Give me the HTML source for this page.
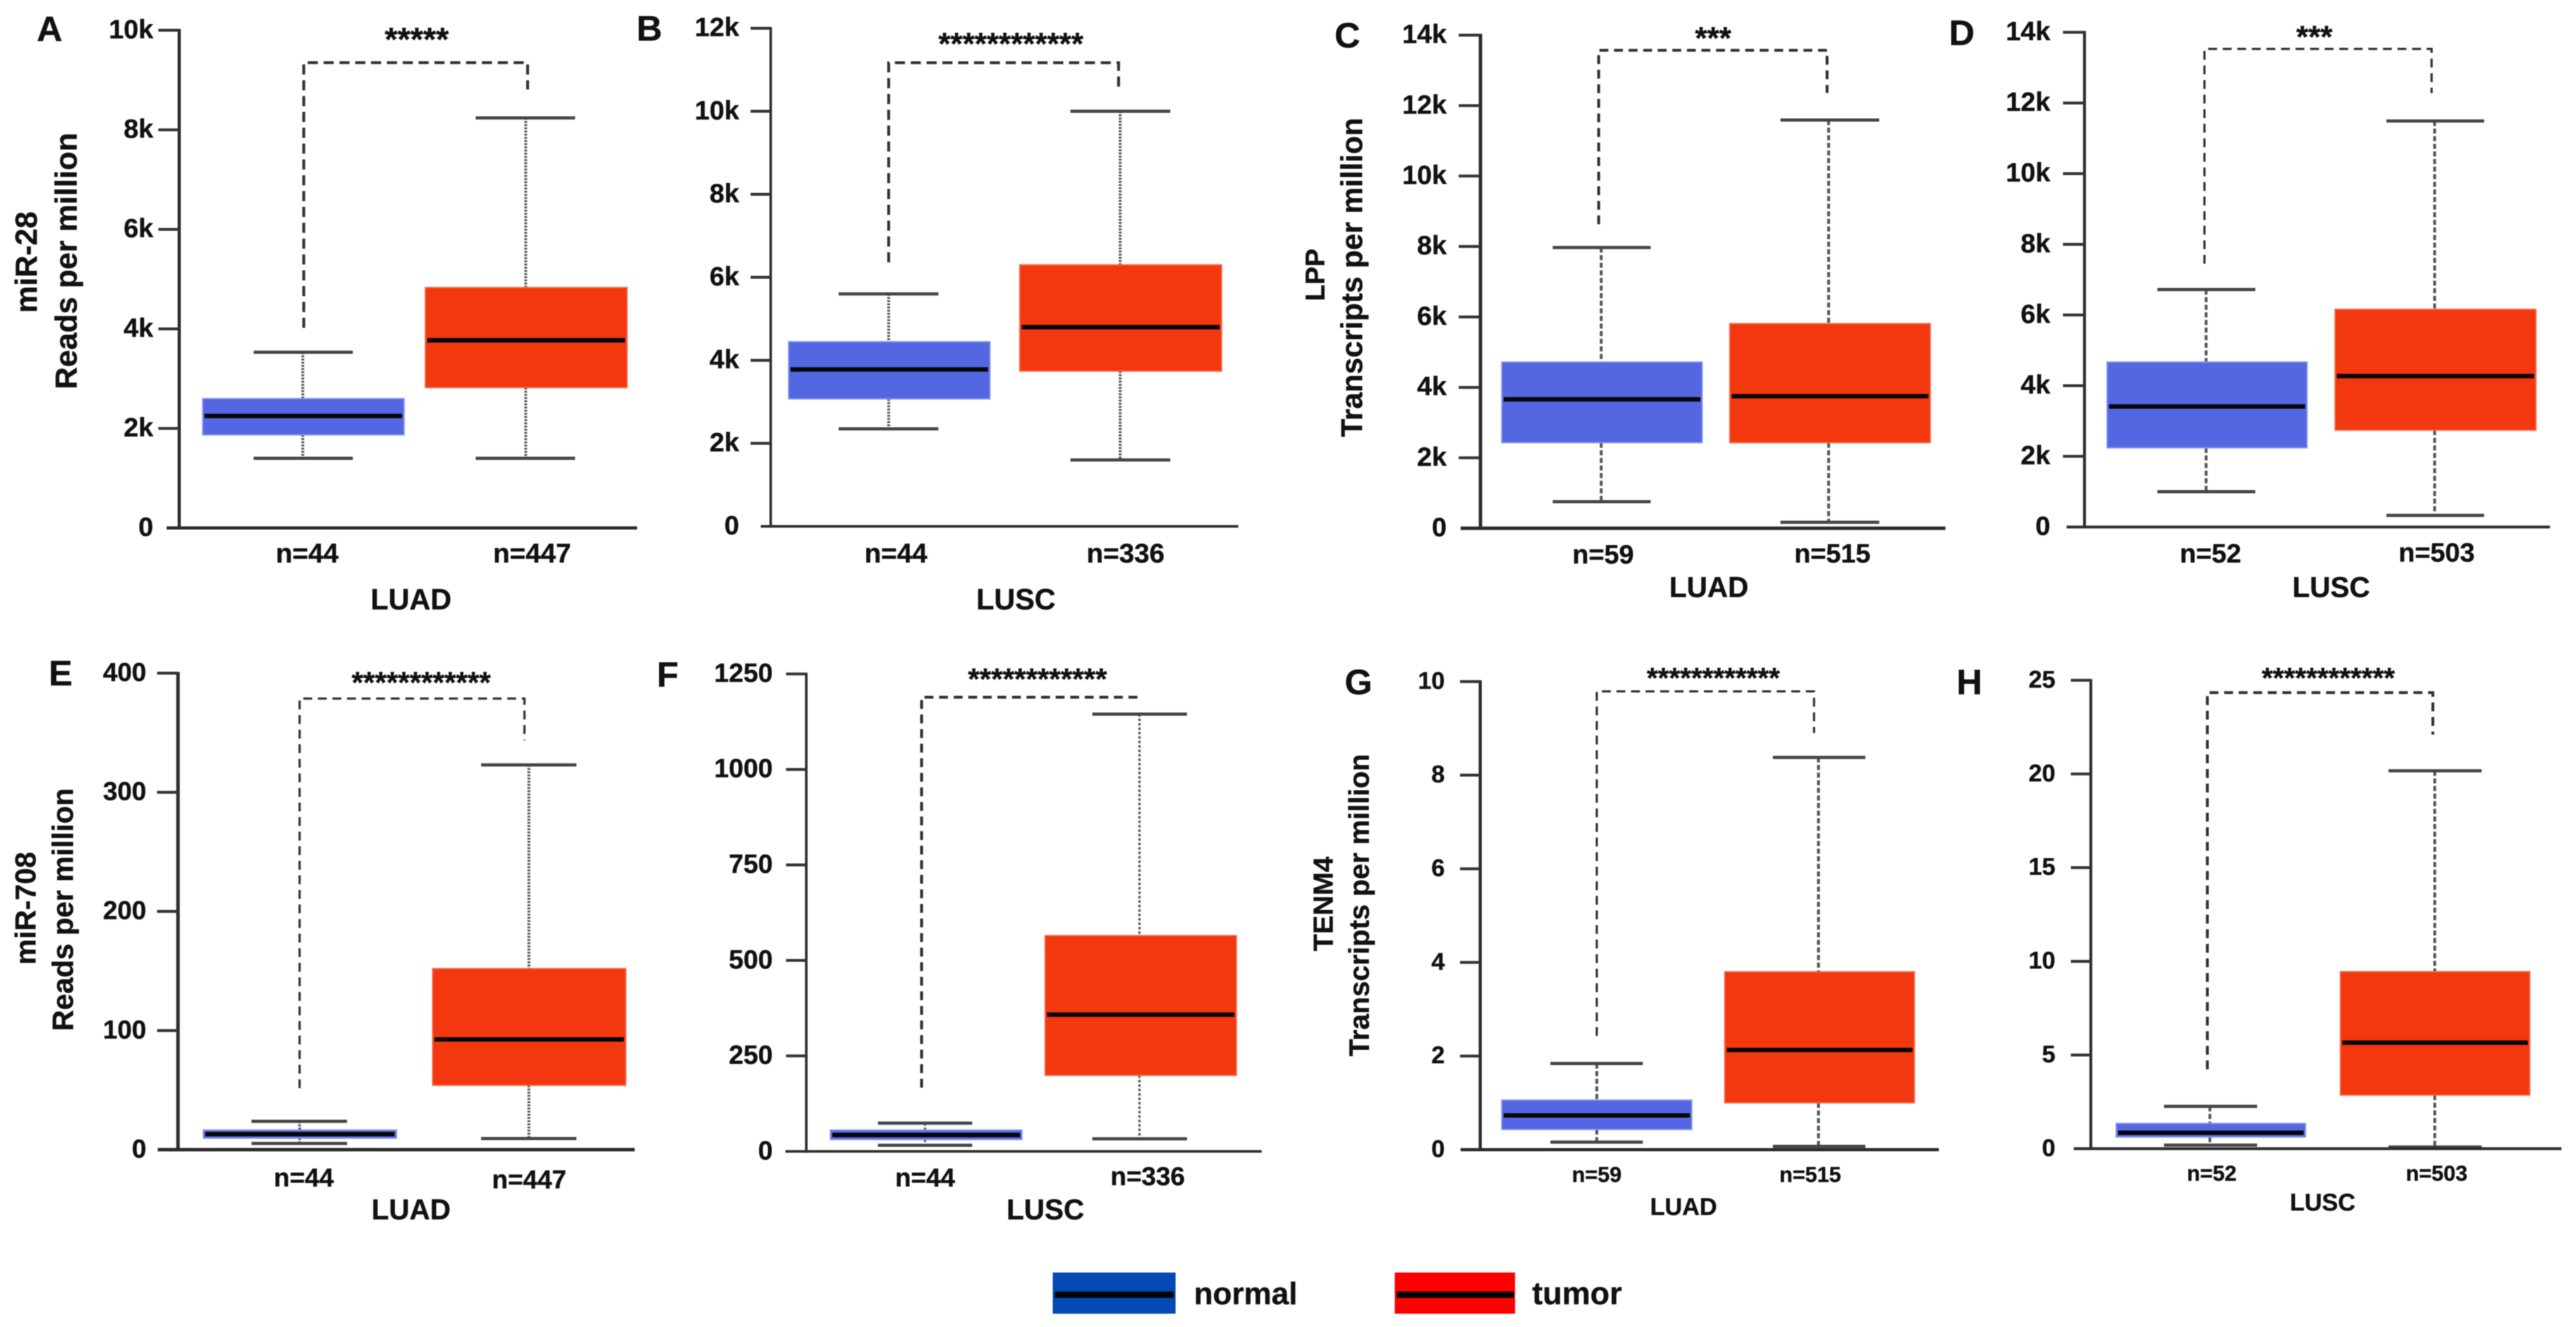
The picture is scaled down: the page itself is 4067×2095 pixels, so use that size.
<!DOCTYPE html>
<html lang="en">
<head>
<meta charset="utf-8">
<title>Boxplots of miR-28, miR-708, LPP and TENM4 in LUAD and LUSC</title>
<style>
  html, body { margin: 0; padding: 0; background: #fff; width: 4067px; height: 2095px; overflow: hidden; }
  svg { display: block; filter: blur(0.9px); }
  text { font-family: "Liberation Sans", sans-serif; font-weight: bold; fill: #111; stroke: #111; stroke-width: 0.5px; }
</style>
</head>
<body>
<svg id="figure" xmlns="http://www.w3.org/2000/svg" width="4067" height="2095" viewBox="0 0 4067 2095">
  <rect x="0" y="0" width="4067" height="2095" fill="#ffffff"></rect>
  <g>
    <g>
      <rect x="1662" y="2009" width="194" height="65" fill="#034ab5"></rect>
      <line x1="1665" x2="1853" y1="2044" y2="2044" stroke="#050505" stroke-width="10"></line>
      <text x="1885" y="2059" font-size="49">normal</text>
    </g>
    <g>
      <rect x="2202" y="2009" width="190" height="65" fill="#fe0000"></rect>
      <line x1="2205" x2="2390" y1="2044" y2="2044" stroke="#050505" stroke-width="10"></line>
      <text x="2419" y="2059" font-size="50">tumor</text>
    </g>
  </g>
</svg>
<script>
// ---- Chart data, one slot per panel A..H ----
const panelLetters = ['A', 'B', 'C', 'D', 'E', 'F', 'G', 'H'];
const cancerTypes = ['LUAD', 'LUSC', 'LUAD', 'LUSC', 'LUAD', 'LUSC', 'LUAD', 'LUSC'];
const geneNames = ['miR-28', '', 'LPP', '', 'miR-708', '', 'TENM4', ''];
const unitNames = ['Reads per million', '', 'Transcripts per million', '', 'Reads per million', '', 'Transcripts per million', ''];
const normalCounts = [44, 44, 59, 52, 44, 44, 59, 52];
const tumorCounts = [447, 336, 515, 503, 447, 336, 515, 503];
const starCounts = [5, 12, 3, 3, 12, 12, 12, 12];

const ticksA = [0, 2000, 4000, 6000, 8000, 10000];
const ticksB = [0, 2000, 4000, 6000, 8000, 10000, 12000];
const ticksC = [0, 2000, 4000, 6000, 8000, 10000, 12000, 14000];
const ticksD = [0, 2000, 4000, 6000, 8000, 10000, 12000, 14000];
const ticksE = [0, 100, 200, 300, 400];
const ticksF = [0, 250, 500, 750, 1000, 1250];
const ticksG = [0, 2, 4, 6, 8, 10];
const ticksH = [0, 5, 10, 15, 20, 25];
const tickLabelsA = ['0', '2k', '4k', '6k', '8k', '10k'];
const tickLabelsB = ['0', '2k', '4k', '6k', '8k', '10k', '12k'];
const tickLabelsC = ['0', '2k', '4k', '6k', '8k', '10k', '12k', '14k'];
const tickLabelsD = ['0', '2k', '4k', '6k', '8k', '10k', '12k', '14k'];
const tickLabelsE = ['0', '100', '200', '300', '400'];
const tickLabelsF = ['0', '250', '500', '750', '1000', '1250'];
const tickLabelsG = ['0', '2', '4', '6', '8', '10'];
const tickLabelsH = ['0', '5', '10', '15', '20', '25'];
const allTicks = [ticksA, ticksB, ticksC, ticksD, ticksE, ticksF, ticksG, ticksH];
const allTickLabels = [tickLabelsA, tickLabelsB, tickLabelsC, tickLabelsD, tickLabelsE, tickLabelsF, tickLabelsG, tickLabelsH];

const normalLow = [1400, 2350, 755, 1000, 5.2, 16, 0.16, 0.19];
const normalQ1 = [1870, 3070, 2430, 2240, 9.6, 31, 0.43, 0.62];
const normalMedian = [2250, 3780, 3660, 3410, 13, 43, 0.73, 0.85];
const normalQ3 = [2600, 4450, 4720, 4670, 16.5, 56, 1.06, 1.35];
const normalHigh = [3530, 5600, 7970, 6720, 23.8, 74, 1.84, 2.26];

const tumorLow = [1400, 1600, 170, 330, 9.3, 33, 0.07, 0.09];
const tumorQ1 = [2820, 3740, 2430, 2740, 54, 199, 1.0, 2.86];
const tumorMedian = [3770, 4800, 3750, 4270, 92.5, 358, 2.13, 5.66];
const tumorQ3 = [4830, 6300, 5810, 6160, 152, 565, 3.8, 9.45];
const tumorHigh = [8240, 10000, 11590, 11490, 323, 1145, 8.38, 20.17];

const bracketTop = [9350, 11170, 13570, 13530, 378.7, 1189, 9.79, 24.34];
const bracketLeftEnd = [4020, 6360, 8630, 7450, 51.6, 167, 2.43, 4.24];
const bracketRightEnd = [8810, 10520, 12360, 12280, 343.6, 1189, 8.9, 22.1];

// ---- Pixel layout of each panel (not data) ----
const layouts = [
  { axisX:283, yTop:47.8, y0:833.5, hL:263, hR:1006, tickL:250, labelR:242, tickFont:42, nBox:[320,638], tBox:[671.5,990], nCap:[400.5,557], tCap:[751,908], nX:478, tX:830, brL:479.6, brR:833, starX:658, starY:51, starFont:52, nLX:485, tLX:840, nLY:888, tLY:888, nFont:43, catX:649, catY:962, catFont:46, letterX:58, letterY:65, dash:'3 2', whW:4.5, brW:4.5, brDash:'16 9', axW:5, geneX:58, geneY:414, geneFont:48, unitX:121, unitY:412, unitFont:48.6 },
  { axisX:1216.8, yTop:44.6, y0:831, hL:1201, hR:1955, tickL:1185, labelR:1167, tickFont:42, nBox:[1245,1563], tBox:[1610,1928.6], nCap:[1324,1481.5], tCap:[1690,1847.6], nX:1403, tX:1768.5, brL:1403, brR:1766, starX:1596, starY:58.7, starFont:49, nLX:1414.5, tLX:1777, nLY:888, tLY:888, nFont:43, catX:1604, catY:962, catFont:46, letterX:1005, letterY:64, dash:'3 2', whW:4.5, brW:4.5, brDash:'16 9', axW:4 },
  { axisX:2337.4, yTop:55.5, y0:834, hL:2306, hR:3071.5, tickL:2303, labelR:2284, tickFont:42, nBox:[2371,2687.5], tBox:[2731,3047.6], nCap:[2451.5,2606], tCap:[2811,2967], nX:2528, tX:2887, brL:2524, brR:2884.6, starX:2704.7, starY:49.7, starFont:49, nLX:2531, tLX:2893, nLY:889.7, tLY:888, nFont:42, catX:2698, catY:942.6, catFont:45, letterX:2107, letterY:75, dash:'8 4', whW:4.5, brW:4.5, brDash:'14 9', axW:5.5, geneX:2091, geneY:434, geneFont:42.6, unitX:2150.5, unitY:438, unitFont:47 },
  { axisX:3291, yTop:51, y0:832, hL:3262.7, hR:4026, tickL:3257, labelR:3237, tickFont:42, nBox:[3326.6,3642.4], tBox:[3686.6,4003.7], nCap:[3406,3560.7], tCap:[3767.6,3922], nX:3483, tX:3843.8, brL:3480.4, brR:3839, starX:3654, starY:47.8, starFont:49, nLX:3490, tLX:3847, nLY:888, tLY:886.5, nFont:42, catX:3680.5, catY:942.6, catFont:45, letterX:3077, letterY:71, dash:'8 4', whW:4.5, brW:3.5, brDash:'14 9', axW:4.5 },
  { axisX:281, yTop:1062.8, y0:1815, hL:249, hR:1002, tickL:248, labelR:231, tickFont:41, nBox:[321,626], tBox:[683,988], nCap:[397,548], tCap:[759.6,910], nX:473, tX:835, brL:473, brR:828, starX:665, starY:1067, starFont:47, nLX:479.6, tLX:835.5, nLY:1873, tLY:1876, nFont:41, catX:649, catY:1925, catFont:45, letterX:77, letterY:1082, dash:'3 2', whW:4.5, brW:3.5, brDash:'14 9', axW:5.5, geneX:56, geneY:1434, geneFont:45.8, unitX:115, unitY:1436, unitFont:46 },
  { axisX:1273, yTop:1064, y0:1817.8, hL:1240, hR:1992, tickL:1241, labelR:1220, tickFont:41.6, nBox:[1311,1613.5], tBox:[1650,1952], nCap:[1386,1535], tCap:[1724.5,1874], nX:1460.5, tX:1799, brL:1455, brR:1797, starX:1638, starY:1061.5, starFont:47, nLX:1460.5, tLX:1812, nLY:1873, tLY:1871, nFont:41, catX:1650.5, catY:1925, catFont:45, letterX:1037, letterY:1084, dash:'4 3', whW:3.5, brW:4.5, brDash:'14 9', axW:4 },
  { axisX:2337, yTop:1076, y0:1815, hL:2306, hR:3061, tickL:2305, labelR:2281, tickFont:38, nBox:[2371,2671], tBox:[2723,3022.5], nCap:[2447.7,2593.7], tCap:[2799,2945], nX:2521, tX:2871, brL:2521, brR:2864, starX:2705, starY:1061, starFont:45, nLX:2521, tLX:2858, nLY:1866, tLY:1866, nFont:34, catX:2658, catY:1918, catFont:38, letterX:2123, letterY:1096, dash:'8 4', whW:4.5, brW:3.5, brDash:'14 9', axW:5 },
  { axisX:3301, yTop:1074, y0:1813.5, hL:3274, hR:4044, tickL:3269.5, labelR:3245, tickFont:38, nBox:[3341,3640], tBox:[3695,3994], nCap:[3416.5,3563.5], tCap:[3771,3918], nX:3489, tX:3844, brL:3485, brR:3841, starX:3676, starY:1060.8, starFont:45, nLX:3492, tLX:3847, nLY:1864, tLY:1864, nFont:34, catX:3667, catY:1911, catFont:38, letterX:3089, letterY:1096, dash:'8 4', whW:4.5, brW:4.5, brDash:'14 9', axW:4.5 }
];
layouts[6].geneX = 2104;
layouts[6].geneY = 1427;
layouts[6].geneFont = 44;
layouts[6].unitX = 2161;
layouts[6].unitY = 1429;
layouts[6].unitFont = 44.5;

const SVG_NS = 'http://www.w3.org/2000/svg';
const figure = document.getElementById('figure');

function make(parent, tag, attrs, content) {
  const el = document.createElementNS(SVG_NS, tag);
  Object.keys(attrs).forEach(function (k) { el.setAttribute(k, attrs[k]); });
  if (content !== undefined) el.textContent = content;
  parent.appendChild(el);
  return el;
}

// Axis function: maps a data value to a y pixel, using the panel's top tick as the domain end.
function yAxis(panelIndex, value) {
  const lay = layouts[panelIndex];
  const ticks = allTicks[panelIndex];
  const domainMax = ticks[ticks.length - 1];
  return lay.y0 - (value / domainMax) * (lay.y0 - lay.yTop);
}

function drawBox(g, i, group, lay, box, cap, cx, stats, fill, edge) {
  const y = function (v) { return yAxis(i, v); };
  const prefix = group + '-' + panelLetters[i].toLowerCase();

  const upper = make(g, 'line', { x1: cx, x2: cx, y1: y(stats.high), y2: y(stats.q3), stroke: '#555555', 'stroke-width': lay.whW, 'stroke-dasharray': lay.dash });
  
  

  const lower = make(g, 'line', { x1: cx, x2: cx, y1: y(stats.q1), y2: y(stats.low), stroke: '#555555', 'stroke-width': lay.whW, 'stroke-dasharray': lay.dash });
  
  

  const capHigh = make(g, 'line', { x1: cap[0], x2: cap[1], y1: y(stats.high), y2: y(stats.high), stroke: '#444444', 'stroke-width': 5 });
  
  

  const capLow = make(g, 'line', { x1: cap[0], x2: cap[1], y1: y(stats.low), y2: y(stats.low), stroke: '#444444', 'stroke-width': 5 });
  
  

  const rect = make(g, 'rect', { x: box[0], y: y(stats.q3), width: box[1] - box[0], height: y(stats.q1) - y(stats.q3), fill: fill, stroke: edge, 'stroke-width': 2 });
  
  

  const med = make(g, 'line', { x1: box[0] + 3, x2: box[1] - 3, y1: y(stats.median), y2: y(stats.median), stroke: '#050505', 'stroke-width': 7 });
  
  
}

panelLetters.forEach(function (letter, i) {
  const lay = layouts[i];
  const key = letter.toLowerCase();
  const y = function (v) { return yAxis(i, v); };

  const g = make(figure, 'g', {});
  
  

  const letterEl = make(g, 'text', { x: lay.letterX, y: lay.letterY, 'font-size': 56 }, letter);
  
  

  if (geneNames[i]) {
    const gene = make(g, 'text', { transform: 'translate(' + lay.geneX + ',' + lay.geneY + ') rotate(-90)', 'text-anchor': 'middle', 'font-size': lay.geneFont }, geneNames[i]);
    
    
    const unit = make(g, 'text', { transform: 'translate(' + lay.unitX + ',' + lay.unitY + ') rotate(-90)', 'text-anchor': 'middle', 'font-size': lay.unitFont }, unitNames[i]);
    
    
  }

  // Whiskers and boxes
  drawBox(g, i, 'normal', lay, lay.nBox, lay.nCap, lay.nX, { low: normalLow[i], q1: normalQ1[i], median: normalMedian[i], q3: normalQ3[i], high: normalHigh[i] }, '#5367e2', '#8a98ef');
  drawBox(g, i, 'tumor', lay, lay.tBox, lay.tCap, lay.tX, { low: tumorLow[i], q1: tumorQ1[i], median: tumorMedian[i], q3: tumorQ3[i], high: tumorHigh[i] }, '#f3370e', '#f76a4a');

  // Axes
  const yLine = make(g, 'line', { x1: lay.axisX, x2: lay.axisX, y1: lay.yTop - 2, y2: lay.y0 + 2, stroke: '#2b2b2b', 'stroke-width': lay.axW });
  
  

  const xLine = make(g, 'line', { x1: lay.hL, x2: lay.hR, y1: lay.y0, y2: lay.y0, stroke: '#2b2b2b', 'stroke-width': lay.axW });
  
  

  allTicks[i].forEach(function (tickValue, t) {
    if (tickValue !== 0) {
      const tick = make(g, 'line', { x1: lay.tickL, x2: lay.axisX, y1: y(tickValue), y2: y(tickValue), stroke: '#333333', 'stroke-width': 4.5 });
      
      
    }
    const label = make(g, 'text', { x: lay.labelR, y: y(tickValue) + lay.tickFont * 0.3, 'text-anchor': 'end', 'font-size': lay.tickFont }, allTickLabels[i][t]);
    
    
  });

  // Significance bracket
  const path = 'M' + lay.brL + ' ' + y(bracketLeftEnd[i]) + ' L' + lay.brL + ' ' + y(bracketTop[i]) + ' L' + lay.brR + ' ' + y(bracketTop[i]) + ' L' + lay.brR + ' ' + y(bracketRightEnd[i]);
  const bracket = make(g, 'path', { d: path, fill: 'none', stroke: '#303030', 'stroke-width': lay.brW, 'stroke-dasharray': lay.brDash });
  
  

  const stars = make(g, 'text', { x: lay.starX, y: lay.starY + lay.starFont * 0.56, 'text-anchor': 'middle', 'font-size': lay.starFont }, '*'.repeat(starCounts[i]));
  
  

  // Category labels
  const nLabel = make(g, 'text', { x: lay.nLX, y: lay.nLY, 'text-anchor': 'middle', 'font-size': lay.nFont }, 'n=' + normalCounts[i]);
  
  

  const tLabel = make(g, 'text', { x: lay.tLX, y: lay.tLY, 'text-anchor': 'middle', 'font-size': lay.nFont }, 'n=' + tumorCounts[i]);
  
  

  const cat = make(g, 'text', { x: lay.catX, y: lay.catY, 'text-anchor': 'middle', 'font-size': lay.catFont }, cancerTypes[i]);
  
  
});
</script>
</body>
</html>
